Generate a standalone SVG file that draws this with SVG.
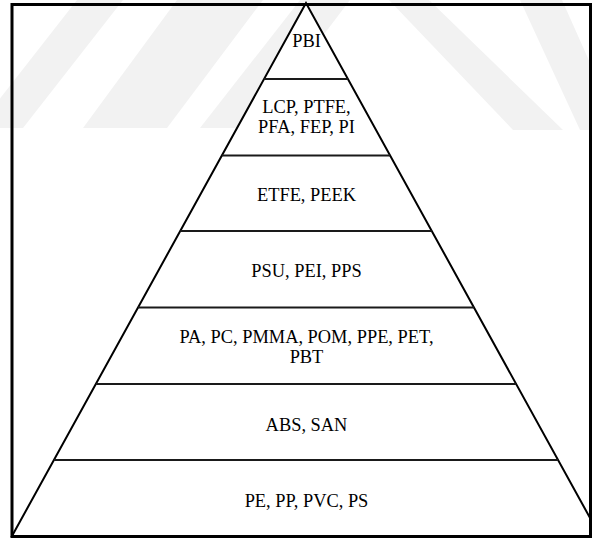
<svg xmlns="http://www.w3.org/2000/svg" width="592" height="538" viewBox="0 0 592 538">
  <style>
    .wm { fill: #f2f2f2; stroke: none; }
    .tri { fill: #ffffff; stroke: #000000; stroke-width: 2; stroke-linejoin: miter; }
    .div { stroke: #1a1a1a; stroke-width: 2; fill: none; }
    .lbl { font-family: "Liberation Serif", "Times New Roman", serif; font-size: 18.4px; fill: #000000; text-anchor: middle; }
    .frame { fill: none; stroke: #000000; stroke-width: 3; }
  </style>
  <rect x="0" y="0" width="592" height="538" fill="#ffffff"/>
  <g id="watermark">
    <polygon class="wm" points="77,0 123,0 23,128 -23,128"/>
    <polygon class="wm" points="177,0 263,0 167,128 83,128"/>
    <polygon class="wm" points="300,0 350,0 253,128 200,128"/>
    <polygon class="wm" points="389,0 429,0 563,130 513,130"/>
    <polygon class="wm" points="520,0 562,0 620,130 580,130"/>
  </g>
  <g id="pyramid">
    <polygon class="tri" points="306,3 12,536 600,536"/>
  </g>
  <g id="connectors">
    <line class="div" x1="264.1" y1="79" x2="347.9" y2="79"/>
    <line class="div" x1="221.9" y1="155.5" x2="390.1" y2="155.5"/>
    <line class="div" x1="180.2" y1="231" x2="431.8" y2="231"/>
    <line class="div" x1="138" y1="307.5" x2="474" y2="307.5"/>
    <line class="div" x1="95.8" y1="384" x2="516.2" y2="384"/>
    <line class="div" x1="53.9" y1="460" x2="558.1" y2="460"/>
  </g>
  <g id="level7"><text class="lbl" x="306.5" y="47">PBI</text></g>
  <g id="level6">
    <text class="lbl" x="306.5" y="113">LCP, PTFE,</text>
    <text class="lbl" x="306.5" y="133">PFA, FEP, PI</text>
  </g>
  <g id="level5"><text class="lbl" x="306.5" y="201">ETFE, PEEK</text></g>
  <g id="level4"><text class="lbl" x="306.5" y="277">PSU, PEI, PPS</text></g>
  <g id="level3">
    <text class="lbl" x="306.5" y="343">PA, PC, PMMA, POM, PPE, PET,</text>
    <text class="lbl" x="306.5" y="363">PBT</text>
  </g>
  <g id="level2"><text class="lbl" x="306.5" y="431">ABS, SAN</text></g>
  <g id="level1"><text class="lbl" x="306.5" y="507">PE, PP, PVC, PS</text></g>
  <rect class="frame" x="12" y="4.5" width="578.5" height="532"/>
</svg>
